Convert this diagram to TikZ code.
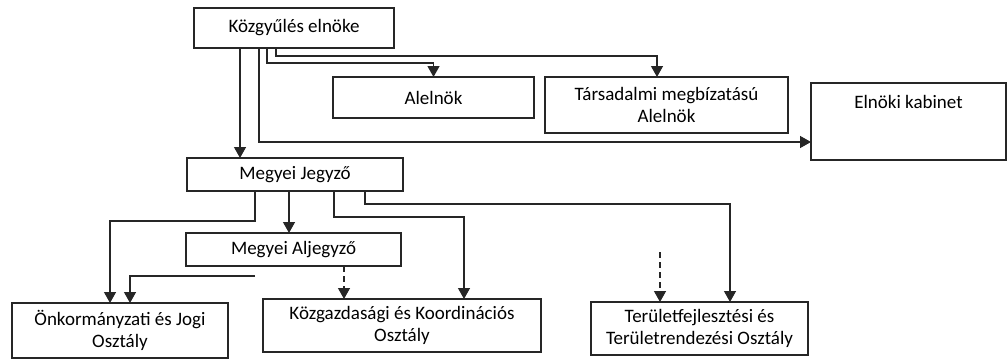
\documentclass[tikz,border=0pt]{standalone}
\usepackage{fontspec}
\setmainfont{Carlito}
\usetikzlibrary{arrows.meta}
\tikzset{
  box/.style={draw=black!85, line width=1.3pt, inner sep=0pt, outer sep=0pt, align=center,
    font=\fontsize{19}{22}\selectfont},
  arr/.style={draw=black!85, line width=1.3pt, -{Triangle[length=11pt,width=12pt]}},
  dsh/.style={dash pattern=on 6pt off 4pt}
}
\begin{document}
\begin{tikzpicture}[x=1pt,y=-1pt]
\useasboundingbox (0,0) rectangle (1007,359);
\node[box, minimum width=200pt, minimum height=40pt] (K) at (294,28) {Közgyűlés elnöke};
\node[box, minimum width=201pt, minimum height=41pt] (A) at (433.5,97.5) {Alelnök};
\node[box, minimum width=243pt, minimum height=56pt] (T) at (666.5,105) {Társadalmi megbízatású\\Alelnök};
\node[box, minimum width=195pt, text height=25pt, text depth=52pt, anchor=north] (E) at (908.5,83) {Elnöki kabinet};
\node[box, minimum width=216pt, minimum height=33pt] (J) at (295,174.5) {Megyei Jegyző};
\node[box, minimum width=215pt, minimum height=33pt] (AJ) at (293.5,249.5) {Megyei Aljegyző};
\node[box, minimum width=216pt, minimum height=55pt] (O) at (120,330.5) {Önkormányzati és Jogi\\Osztály};
\node[box, minimum width=278pt, minimum height=53pt] (KG) at (402,325.5) {Közgazdasági és Koordinációs\\Osztály};
\node[box, minimum width=217pt, minimum height=53pt] (TF) at (699.5,328.5) {Területfejlesztési és\\Területrendezési Osztály};
\coordinate (f1) at (255,276);
\coordinate (f2) at (660,252);
\draw[arr] (240,0 |- K.south) -- (240,0 |- J.north);
\draw[arr] (259,0 |- K.south) |- (E.west |- 0,142);
\draw[arr] (267,0 |- K.south) -- (267,63) -| (A.north);
\draw[arr] (276,0 |- K.south) -- (276,56) -| (657,0 |- T.north);
\draw[arr] (255,0 |- J.south) -- (255,221) -| (110,0 |- O.north);
\draw[arr] (289,0 |- J.south) -- (289,0 |- AJ.north);
\draw[arr] (334,0 |- J.south) -- (334,217) -| (464,0 |- KG.north);
\draw[arr] (365,0 |- J.south) -- (365,204) -| (730,0 |- TF.north);
\draw[arr] (f1) -| (130,0 |- O.north);
\draw[arr,dsh] (344,0 |- AJ.south) -- (344,0 |- KG.north);
\draw[arr,dsh] (f2) -- (660,0 |- TF.north);
\end{tikzpicture}
\end{document}
